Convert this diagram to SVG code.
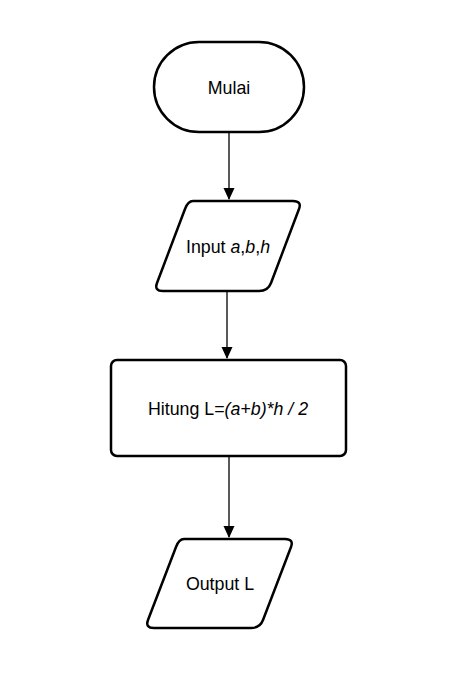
<svg xmlns="http://www.w3.org/2000/svg" width="454" height="687" viewBox="0 0 454 687">
<style>
.s{fill:#fff;stroke:#000;stroke-width:2.5;stroke-linejoin:round}
.t{font-family:"Liberation Sans",Arial,sans-serif;font-size:17.8px;fill:#000;text-anchor:middle;dominant-baseline:central}
.c{stroke:#000;stroke-width:1.3;fill:none}
</style>
<defs>
<marker id="a" markerWidth="14" markerHeight="12" refX="11" refY="5.5" orient="auto" markerUnits="userSpaceOnUse">
<path d="M0,0 L12,5.5 L0,11 Z" fill="#000"/>
</marker>
</defs>
<rect width="454" height="687" fill="#fff"/>
<g id="connectors">
<line class="c" x1="229" y1="132" x2="229" y2="199" marker-end="url(#a)"/>
<line class="c" x1="227" y1="291" x2="227" y2="358" marker-end="url(#a)"/>
<line class="c" x1="229" y1="456" x2="229" y2="537" marker-end="url(#a)"/>
</g>
<g id="mulai">
<rect class="s" x="154" y="42" width="150" height="90" rx="45" ry="45"/>
<text class="t" x="229" y="88">Mulai</text>
</g>
<g id="input">
<path class="s" d="M193,201 L293,201 Q302,201 299,209 L271,283 Q268,291 259,291 L163,291 Q154,291 157,283 L185,209 Q188,201 193,201 Z"/>
<text class="t" x="228" y="247">Input <tspan font-style="italic">a</tspan>,<tspan font-style="italic">b</tspan>,<tspan font-style="italic">h</tspan></text>
</g>
<g id="hitung">
<rect class="s" x="111" y="360" width="235" height="96" rx="6" ry="6"/>
<text class="t" x="228" y="409">Hitung L=<tspan font-style="italic">(a+b)*h / 2</tspan></text>
</g>
<g id="output">
<path class="s" d="M184,539 L285,539 Q294,539 291,547 L263,620 Q260,628 251,628 L154,628 Q145,628 148,620 L176,547 Q179,539 184,539 Z"/>
<text class="t" x="220" y="584">Output L</text>
</g>
</svg>
